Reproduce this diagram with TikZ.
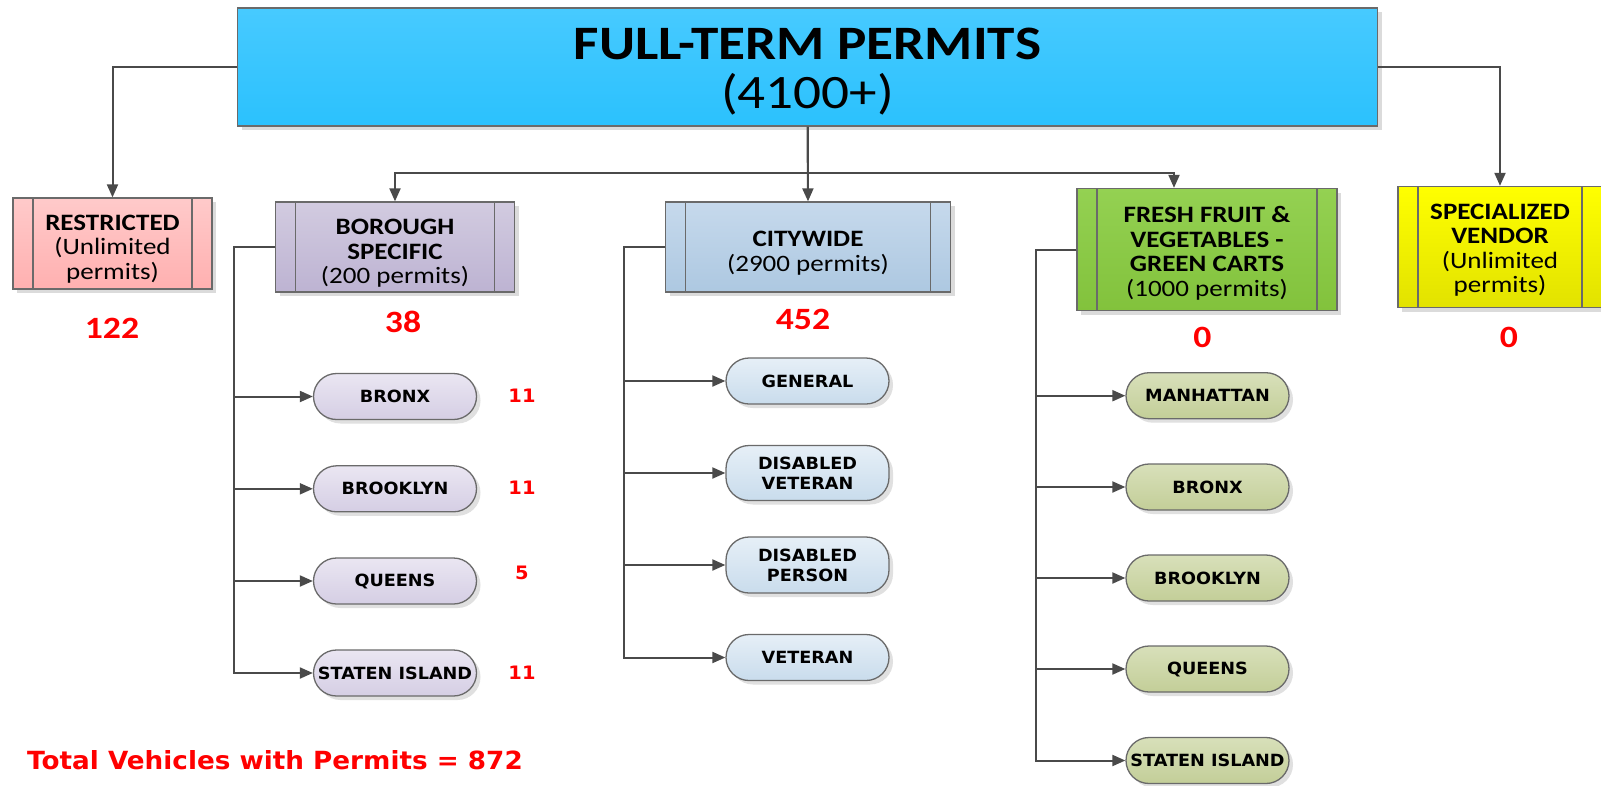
\documentclass[tikz,border=0pt]{standalone}
\usepackage{fontspec}
\setmainfont{Carlito}[FakeStretch=1.15]
\newfontfamily\vfont{DejaVu Sans}[FakeStretch=1.05]
\usetikzlibrary{arrows.meta,shadows}
\newcommand\toppad[1]{\rule{0pt}{#1}}
\definecolor{lnc}{HTML}{4A4A4A}
\definecolor{bdc}{HTML}{6A6A6A}
\definecolor{redc}{HTML}{FF0000}
\definecolor{topA}{HTML}{47CAFF}
\definecolor{topB}{HTML}{2BC1FD}
\definecolor{resA}{HTML}{FFCACA}
\definecolor{resB}{HTML}{FFB0B0}
\definecolor{borA}{HTML}{D2CBE0}
\definecolor{borB}{HTML}{BDB3D2}
\definecolor{citA}{HTML}{C6D9EC}
\definecolor{citB}{HTML}{ADC8E1}
\definecolor{freA}{HTML}{94D152}
\definecolor{freB}{HTML}{82C23C}
\definecolor{speA}{HTML}{FFFF00}
\definecolor{speB}{HTML}{E2E200}
\definecolor{bpA}{HTML}{EAE6F2}
\definecolor{bpB}{HTML}{D5CEE4}
\definecolor{cpA}{HTML}{E6EFF7}
\definecolor{cpB}{HTML}{C9DCEC}
\definecolor{fpA}{HTML}{D8E0BA}
\definecolor{fpB}{HTML}{C3CE98}
\begin{document}
\begin{tikzpicture}[x=1pt,y=-1pt,
  sbox/.style={draw=bdc, line width=1.3pt, inner sep=0pt, align=center,
    font=\fontsize{23.5}{24.5}\selectfont,
    general shadow={fill=black!14, shadow xshift=4pt, shadow yshift=-4pt},
    path picture={
      \draw[bdc, line width=1.3pt] ([xshift=20pt]path picture bounding box.north west) -- ([xshift=20pt]path picture bounding box.south west);
      \draw[bdc, line width=1.3pt] ([xshift=-20pt]path picture bounding box.north east) -- ([xshift=-20pt]path picture bounding box.south east);}},
  pill/.style={draw=bdc, line width=1.3pt, rounded corners=23pt, inner sep=0pt,
    minimum width=163pt, minimum height=46pt, align=center,
    font=\vfont\bfseries\fontsize{16.8}{20}\selectfont,
    general shadow={fill=black!12, shadow xshift=4pt, shadow yshift=-4pt}},
  pillB/.style={pill, top color=bpA, bottom color=bpB},
  pillC/.style={pill, top color=cpA, bottom color=cpB},
  pillF/.style={pill, top color=fpA, bottom color=fpB},
  conn/.style={draw=lnc, line width=2pt, -{Triangle[length=13pt,width=11pt]}},
  cnt/.style={text=redc, font=\bfseries\fontsize{31}{32}\selectfont},
  sub/.style={text=redc, font=\vfont\bfseries\fontsize{18.5}{20}\selectfont}
]
\fill[white] (0,0) rectangle (1601,785);
\useasboundingbox (0,0) rectangle (1601,785);

% top box
\node[draw=bdc, line width=1.3pt, top color=topA, bottom color=topB,
  minimum width=1140pt, minimum height=118pt, inner sep=0pt, align=center,
  general shadow={fill=black!14, shadow xshift=4pt, shadow yshift=-4pt},
  font=\fontsize{48}{49}\selectfont] (top) at (807.5,67)
  {\toppad{40pt}\bfseries FULL-TERM PERMITS\\(4100+)};

% category boxes
\node[sbox, top color=resA, bottom color=resB, minimum width=199pt, minimum height=91pt]
  (res) at (112.5,243.5) {\toppad{26pt}\bfseries RESTRICTED\\(Unlimited\\permits)};
\node[sbox, top color=borA, bottom color=borB, minimum width=239pt, minimum height=90pt]
  (bor) at (395,247) {\toppad{28pt}\bfseries BOROUGH\\\bfseries SPECIFIC\\(200 permits)};
\node[sbox, top color=citA, bottom color=citB, minimum width=285pt, minimum height=90pt]
  (cit) at (808,247) {\toppad{28pt}\bfseries CITYWIDE\\(2900 permits)};
\node[sbox, top color=freA, bottom color=freB, minimum width=260pt, minimum height=122pt]
  (fre) at (1207,249.5) {\toppad{24pt}\bfseries FRESH FRUIT \&\\\bfseries VEGETABLES -\\\bfseries GREEN CARTS\\(1000 permits)};
\node[sbox, top color=speA, bottom color=speB, minimum width=204pt, minimum height=121pt]
  (spe) at (1500,247) {\toppad{22pt}\bfseries SPECIALIZED\\\bfseries VENDOR\\(Unlimited\\permits)};

% counts
\node[cnt] (nres) at (112,328) {122};
\node[cnt] (nbor) at (403,322) {38};
\node[cnt] (ncit) at (803,319) {452};
\node[cnt] (nfre) at (1202.5,337) {0};
\node[cnt] (nspe) at (1509,337) {0};

% top connectors
\draw[conn] (top.west) -| (res.north);
\draw[conn] (top.east) -| (spe.north);
\draw[conn] (top.south) -- (cit.north);
\draw[conn] (top.south) -- ++(0,46) -| (bor.north);
\draw[conn] (top.south) -- ++(0,46) -| ([xshift=-33pt]fre.north);

% borough children
\node[pillB] (b1) at (395,396.5) {BRONX};
\node[pillB] (b2) at (395,488.8) {BROOKLYN};
\node[pillB] (b3) at (395,581) {QUEENS};
\node[pillB] (b4) at (395,673) {STATEN ISLAND};
\foreach \n in {b1,b2,b3,b4} \draw[conn] (bor.west) -- ++(-41,0) |- (\n.west);
\node[sub] (s1) at (522,396) {11};
\node[sub] (s2) at (522,488) {11};
\node[sub] (s3) at (522,573) {5};
\node[sub] (s4) at (522,673) {11};

% citywide children
\node[pillC] (c1) at (807.5,381) {GENERAL};
\node[pillC, minimum height=55pt] (c2) at (807.5,473) {DISABLED\\VETERAN};
\node[pillC, minimum height=56pt] (c3) at (807.5,565) {DISABLED\\PERSON};
\node[pillC] (c4) at (807.5,657.5) {VETERAN};
\foreach \n in {c1,c2,c3,c4} \draw[conn] (cit.west) -- ++(-41,0) |- (\n.west);

% fresh children
\node[pillF] (f1) at (1207.5,395.7) {MANHATTAN};
\node[pillF] (f2) at (1207.5,487) {BRONX};
\node[pillF] (f3) at (1207.5,578) {BROOKLYN};
\node[pillF] (f4) at (1207.5,669) {QUEENS};
\node[pillF] (f5) at (1207.5,760.5) {STATEN ISLAND};
\foreach \n in {f1,f2,f3,f4,f5} \draw[conn] (fre.west) -- ++(-40,0) |- (\n.west);

% total
\node[anchor=west, inner sep=0pt, text=redc, font=\vfont\bfseries\fontsize{25}{26}\selectfont]
  (total) at (27,760) {Total Vehicles with Permits = 872};
\end{tikzpicture}
\end{document}
